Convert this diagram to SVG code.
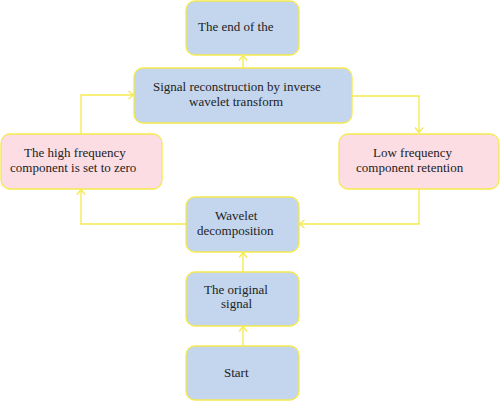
<svg xmlns="http://www.w3.org/2000/svg" width="500" height="401" viewBox="0 0 500 401">
<defs>
<style>
.blue{fill:#c3d6ee;stroke:#f5ea4c;stroke-width:1.3}
.pink{fill:#fcdde3;stroke:#f5ea4c;stroke-width:1.3}
.t{font-family:"Liberation Serif",serif;font-size:13px;fill:#222}
.c{fill:none;stroke:#f5ea4c;stroke-width:1.3}
</style>
<marker id="ah" markerWidth="10" markerHeight="10" refX="8" refY="5" orient="auto" markerUnits="userSpaceOnUse">
<path d="M3,1 L8,5 L3,9" fill="none" stroke="#f5ea4c" stroke-width="1.3"/>
</marker>
</defs>
<rect width="500" height="401" fill="#fff"/>
<g id="connectors">
<line class="c" x1="243" y1="68" x2="243" y2="55.5" marker-end="url(#ah)"/>
<polyline class="c" points="352,96 419,96 419,132.5" marker-end="url(#ah)"/>
<polyline class="c" points="419,189 419,224 299.5,224" marker-end="url(#ah)"/>
<polyline class="c" points="186,224 81,224 81,189.5" marker-end="url(#ah)"/>
<polyline class="c" points="81,134 81,95 133.5,95" marker-end="url(#ah)"/>
<line class="c" x1="243" y1="272" x2="243" y2="252.5" marker-end="url(#ah)"/>
<line class="c" x1="243" y1="346" x2="243" y2="326.5" marker-end="url(#ah)"/>
</g>
<g id="end">
<rect class="blue" x="186" y="1" width="113" height="54" rx="9"/>
<text class="t" x="198" y="31">The end of the</text>
</g>
<g id="reconstruction">
<rect class="blue" x="134" y="68" width="218" height="55" rx="9"/>
<text class="t" x="153" y="91">Signal reconstruction by inverse</text>
<text class="t" x="189" y="106">wavelet transform</text>
</g>
<g id="high">
<rect class="pink" x="1" y="134" width="161" height="55" rx="9"/>
<text class="t" x="24" y="157">The high frequency</text>
<text class="t" x="10" y="172">component is set to zero</text>
</g>
<g id="low">
<rect class="pink" x="339" y="134" width="160" height="55" rx="9"/>
<text class="t" x="373" y="157">Low frequency</text>
<text class="t" x="356" y="172">component retention</text>
</g>
<g id="decomposition">
<rect class="blue" x="186" y="197" width="113" height="55" rx="9"/>
<text class="t" x="215" y="220">Wavelet</text>
<text class="t" x="197" y="235">decomposition</text>
</g>
<g id="original">
<rect class="blue" x="186" y="272" width="113" height="54" rx="9"/>
<text class="t" x="204" y="294">The original</text>
<text class="t" x="221" y="308">signal</text>
</g>
<g id="start">
<rect class="blue" x="186" y="346" width="113" height="54" rx="9"/>
<text class="t" x="224" y="377">Start</text>
</g>
</svg>
